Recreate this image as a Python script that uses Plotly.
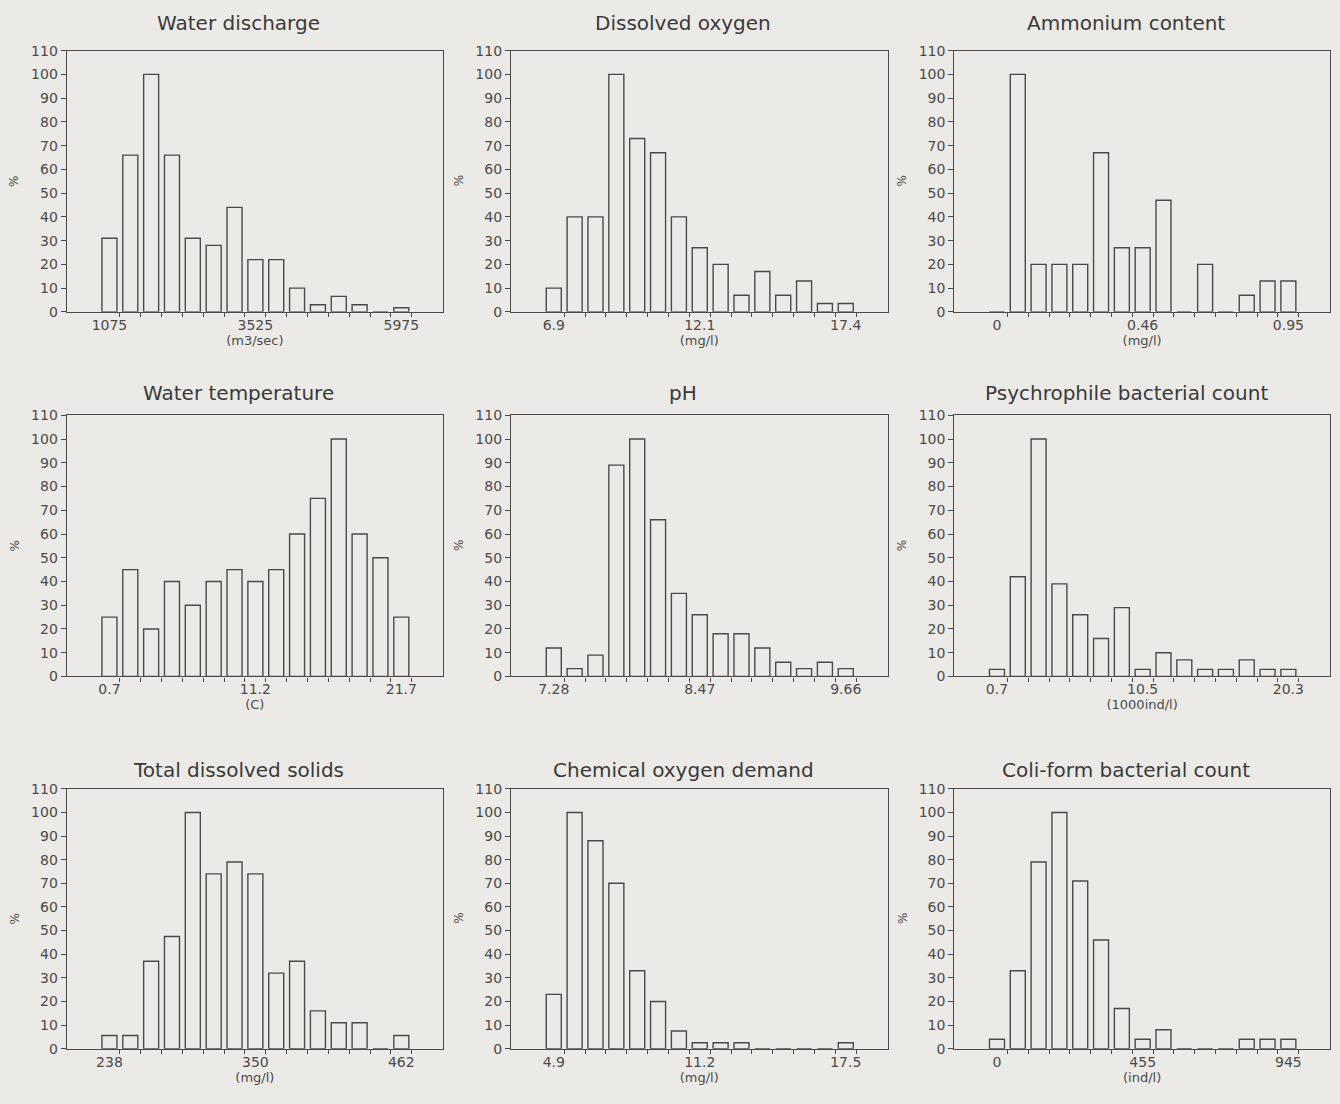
import plotly.graph_objects as go

# ---- data (relative frequency, %) ----
bins = list(range(15))

water_discharge = [31, 66, 100, 66, 31, 28, 44, 22, 22, 10, 3, 6.5, 3, 0, 1.7]
dissolved_oxygen = [10, 40, 40, 100, 73, 67, 40, 27, 20, 7, 17, 7, 13, 3.5, 3.5]
ammonium_content = [0, 100, 20, 20, 20, 67, 27, 27, 47, 0, 20, 0, 7, 13, 13]
water_temperature = [25, 45, 20, 40, 30, 40, 45, 40, 45, 60, 75, 100, 60, 50, 25]
ph_values = [12, 3.3, 9, 89, 100, 66, 35, 26, 18, 18, 12, 6, 3.3, 6, 3.3]
psychrophile_count = [3, 42, 100, 39, 26, 16, 29, 3, 10, 7, 3, 3, 7, 3, 3]
total_dissolved_solids = [5.6, 5.6, 37, 47.5, 100, 74, 79, 74, 32, 37, 16, 11, 11, 0, 5.6]
chemical_oxygen_demand = [23, 100, 88, 70, 33, 20, 7.5, 2.5, 2.5, 2.5, 0, 0, 0, 0, 2.5]
coliform_count = [4, 33, 79, 100, 71, 46, 17, 4, 8, 0, 0, 0, 4, 4, 4]

titles = ["Water discharge", "Dissolved oxygen", "Ammonium content",
          "Water temperature", "pH", "Psychrophile bacterial count",
          "Total dissolved solids", "Chemical oxygen demand", "Coli-form bacterial count"]
units = ["(m3/sec)", "(mg/l)", "(mg/l)", "(C)", "", "(1000ind/l)", "(mg/l)", "(mg/l)", "(ind/l)"]
tick_labels = [["1075", "3525", "5975"], ["6.9", "12.1", "17.4"], ["0", "0.46", "0.95"],
               ["0.7", "11.2", "21.7"], ["7.28", "8.47", "9.66"], ["0.7", "10.5", "20.3"],
               ["238", "350", "462"], ["4.9", "11.2", "17.5"], ["0", "455", "945"]]
series = [water_discharge, dissolved_oxygen, ammonium_content,
          water_temperature, ph_values, psychrophile_count,
          total_dissolved_solids, chemical_oxygen_demand, coliform_count]
label_bins = [0, 7, 14]
y_ticks = list(range(0, 111, 10))

# ---- layout geometry (pixels) ----
W, H = 1340, 1104
cols = [(66.7, 443.0), (511.0, 887.5), (954.3, 1330.0)]
rows = [(43.3, 308.3), (413.3, 678.3), (792.3, 1056.0)]
title_y = [15, 391, 773]

BG = "#ebeae6"
INK = "#4a4a4a"
FONT = "DejaVu Sans"

fig = go.Figure()
layout = dict(
    width=W, height=H, margin=dict(l=0, r=0, t=0, b=0),
    paper_bgcolor=BG, plot_bgcolor=BG, showlegend=False,
    font=dict(family=FONT, color=INK, size=14), bargap=0.28,
)
annotations = []

for i, vals in enumerate(series):
    r, c = divmod(i, 3)
    x0, x1 = cols[c]
    y0, y1 = rows[r]
    ax = "" if i == 0 else str(i + 1)
    fig.add_trace(go.Bar(
        x=bins, y=vals, xaxis="x" + ax, yaxis="y" + ax,
        marker=dict(color=BG, line=dict(color=INK, width=1.4)),
        width=0.72, hoverinfo="x+y",
    ))
    layout["xaxis" + ax] = dict(
        domain=[x0 / W, x1 / W], anchor="y" + ax, range=[-2.05, 16.0],
        tickmode="array", tickvals=label_bins, ticktext=tick_labels[i], ticks="",
        showgrid=False, zeroline=False, showline=True, mirror=True,
        linecolor=INK, linewidth=1.2, tickfont=dict(size=14, color=INK),
        minor=dict(tickmode="array", tickvals=[b + 0.5 for b in bins],
                   ticks="outside", ticklen=4, tickcolor=INK, showgrid=False),
        title=dict(text=units[i], font=dict(size=13, color=INK), standoff=2),
        fixedrange=True,
    )
    layout["yaxis" + ax] = dict(
        domain=[1 - y1 / H, 1 - y0 / H], anchor="x" + ax, range=[0, 110],
        tickmode="array", tickvals=y_ticks, ticks="outside", ticklen=5,
        tickcolor=INK, showgrid=False, zeroline=False, showline=True,
        mirror=True, linecolor=INK, linewidth=1.2,
        tickfont=dict(size=14, color=INK), fixedrange=True,
    )
    annotations.append(dict(
        text=titles[i], xref="paper", yref="paper",
        x=((x0 + x1) / 2 - 16) / W, y=1 - title_y[r] / H,
        showarrow=False, font=dict(size=20, color="#3a3a3a", family=FONT),
        xanchor="center", yanchor="middle",
    ))
    annotations.append(dict(
        text="%", xref="paper", yref="paper",
        x=(x0 - 52) / W, y=1 - ((y0 + y1) / 2) / H, textangle=-90,
        showarrow=False, font=dict(size=12, color=INK, family=FONT),
        xanchor="center", yanchor="middle",
    ))

layout["annotations"] = annotations
fig.update_layout(**layout)
fig.write_html("out.html")
